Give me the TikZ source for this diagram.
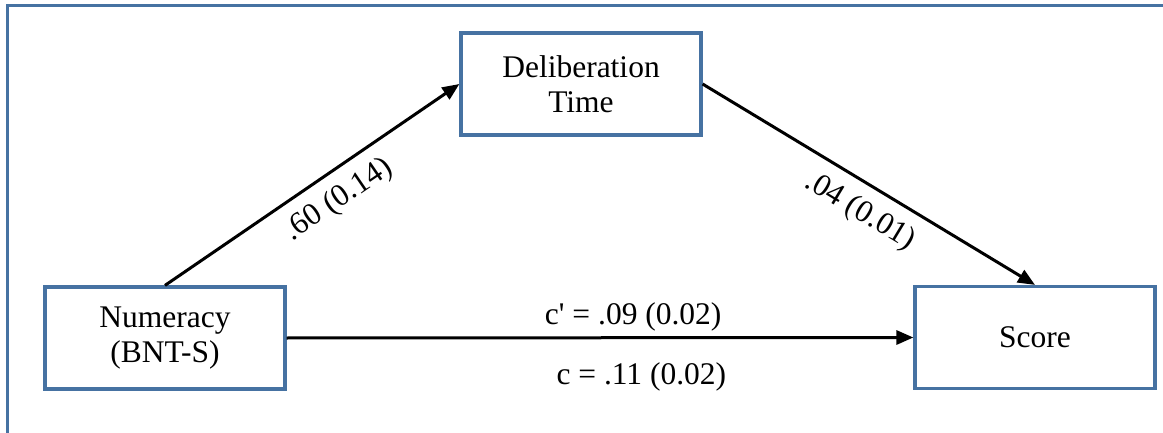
\documentclass[tikz,border=0pt]{standalone}
\usepackage{fontspec}
\setmainfont{Liberation Serif}
\usetikzlibrary{arrows.meta}
\definecolor{boxblue}{RGB}{70,114,162}
\tikzset{
  varbox/.style={draw=boxblue, line width=3.2pt, minimum width=240pt, minimum height=102pt, inner sep=0pt, align=center, font=\fontsize{31.5}{35.5}\selectfont},
  conn/.style={line width=3pt, -{Triangle[length=17pt,width=14pt]}},
  lbl/.style={font=\fontsize{31.5}{35.5}\selectfont, inner sep=0pt},
  frameline/.style={draw=boxblue, line width=3pt}
}
\begin{document}
\begin{tikzpicture}[x=1pt,y=-1pt]
\useasboundingbox (0,0) rectangle (1163,433);
\coordinate (fTL) at (7,6);
\coordinate (fTR) at (1163,6);
\coordinate (fBL) at (7,433);
\draw[frameline] (fTR) -- (fTL) -- (fBL);
\node[varbox] (delib) at (581,84) {Deliberation\\Time};
\node[varbox] (num) at (165,338) {Numeracy\\(BNT-S)};
\node[varbox] (score) at (1035,337.5) {Score};
\draw[conn] (num.north) -- node[lbl, pos=0.537, sloped, below=12pt] (la) {.60 (0.14)} (delib.west);
\draw[conn] (delib.east) -- node[lbl, pos=0.517, sloped, below=12pt] (lb) {.04 (0.01)} (score.north);
\draw[conn] (num.east) -- node[lbl, pos=0.553, anchor=base, yshift=13pt] (lc) {c\textquotesingle{} = .09 (0.02)}
  node[lbl, pos=0.566, anchor=base, yshift=-47pt] (ld) {c = .11 (0.02)} (score.west);
\end{tikzpicture}
\end{document}
